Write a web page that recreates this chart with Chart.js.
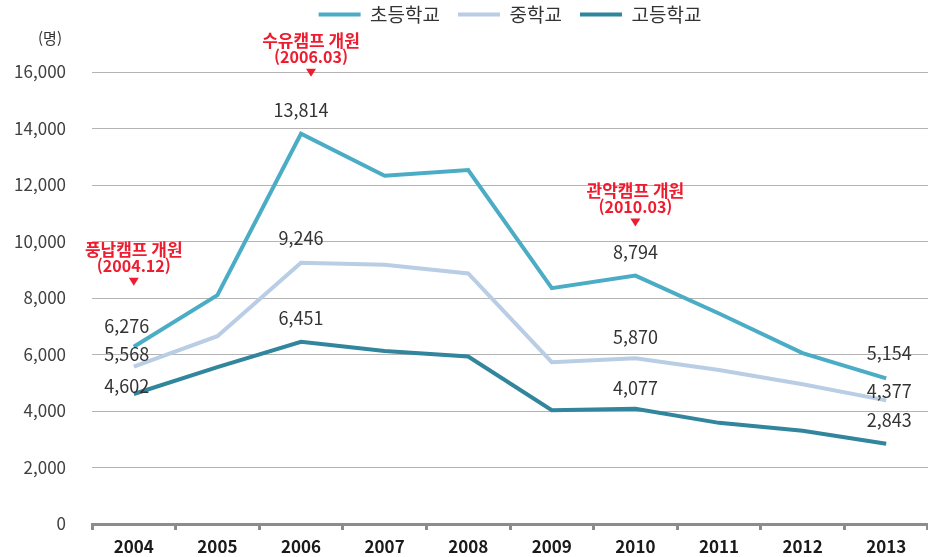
<!DOCTYPE html>
<html lang="ko">
<head>
<meta charset="utf-8">
<script src="https://cdn.jsdelivr.net/npm/chart.js@4.4.1/dist/chart.umd.min.js"></script>
<style>
  html, body { margin: 0; padding: 0; background: #fff; }
  #wrap { width: 928px; height: 557px; position: relative; }
</style>
</head>
<body>
<div id="wrap"><canvas id="chart"></canvas></div>
<script>
// Data
const years = ['2004', '2005', '2006', '2007', '2008', '2009', '2010', '2011', '2012', '2013'];
const elementary = [6276, 8100, 13814, 12330, 12530, 8350, 8794, 7450, 6050, 5154];
const middle = [5568, 6650, 9246, 9180, 8870, 5730, 5870, 5450, 4950, 4377];
const high = [4602, 5550, 6451, 6120, 5930, 4030, 4077, 3580, 3300, 2843];
const seriesNames = ['초등학교', '중학교', '고등학교'];
const yTicks = [0, 2000, 4000, 6000, 8000, 10000, 12000, 14000, 16000];
const unitLabel = '(명)';
const labeledPoints = [0, 2, 6, 9];
const events = [
    { name: '풍납캠프 개원', date: '(2004.12)', at: 0 },
    { name: '수유캠프 개원', date: '(2006.03)', at: 2 },
    { name: '관악캠프 개원', date: '(2010.03)', at: 6 }
];

const FONT = "'Noto Sans CJK KR', 'Noto Sans', sans-serif";
const colors = ['#4BACC6', '#B9CDE5', '#31859C'];

// label offsets (px) per point index; [dx, dy] per series
const labelOffsets = {
    0: [[-7, -21], [-7, -13], [-7, -8]],
    2: [[0, -24], [0, -25], [0, -24]],
    6: [[0, -23], [0, -21], [0, -21]],
    9: [[3, -25], [3, -9], [3, -24]]
};
// event marker offsets relative to the top series point
const eventOffsets = [[0, -65], [10, -61], [0, -53]];

const valueLabels = {
    id: 'valueLabels',
    afterDatasetsDraw(chart) {
        const ctx = chart.ctx;
        ctx.save();
        ctx.font = '18px ' + FONT;
        ctx.fillStyle = '#333';
        ctx.textAlign = 'center';
        ctx.textBaseline = 'middle';
        chart.data.datasets.forEach((ds, di) => {
            const meta = chart.getDatasetMeta(di);
            labeledPoints.forEach(i => {
                const pt = meta.data[i];
                const off = labelOffsets[i][di];
                ctx.fillText(ds.data[i].toLocaleString('en-US'), pt.x + off[0], pt.y + off[1]);
            });
        });
        ctx.restore();
    }
};

const eventMarkers = {
    id: 'eventMarkers',
    afterDatasetsDraw(chart) {
        const ctx = chart.ctx;
        const meta = chart.getDatasetMeta(0);
        ctx.save();
        ctx.fillStyle = '#EE1C2E';
        ctx.textAlign = 'center';
        ctx.textBaseline = 'middle';
        events.forEach((ev, k) => {
            const pt = meta.data[ev.at];
            const x = pt.x + eventOffsets[k][0];
            const y = pt.y + eventOffsets[k][1];
            ctx.font = 'bold 17px ' + FONT;
            ctx.fillText(ev.name, x, y - 32);
            ctx.font = 'bold 16px ' + FONT;
            ctx.fillText(ev.date, x, y - 16);
            ctx.beginPath();
            ctx.moveTo(x - 5, y - 4);
            ctx.lineTo(x + 5, y - 4);
            ctx.lineTo(x, y + 4);
            ctx.closePath();
            ctx.fill();
        });
        // unit label
        ctx.fillStyle = '#333';
        ctx.font = '15px ' + FONT;
        ctx.fillText(unitLabel, chart.chartArea.left - 42, chart.chartArea.top - 34);
        ctx.restore();
    }
};

// give the legend extra room beneath its items
const legendSpace = {
    id: 'legendSpace',
    beforeInit(chart) {
        const legend = chart.legend;
        if (!legend) return;
        const origFit = legend.fit;
        legend.fit = function () {
            origFit.call(this);
            this.height += 38;
        };
    }
};

const seriesData = [elementary, middle, high];

new Chart(document.getElementById('chart'), {
    type: 'line',
    data: {
        labels: years,
        datasets: seriesData.map((d, i) => ({
            label: seriesNames[i],
            data: d,
            borderColor: colors[i],
            backgroundColor: colors[i],
            borderWidth: 4,
            pointRadius: 0,
            tension: 0
        }))
    },
    options: {
        responsive: true,
        maintainAspectRatio: false,
        animation: false,
        layout: { padding: { top: -13, right: 0, bottom: 0, left: 0 } },
        plugins: {
            legend: {
                position: 'top',
                fullSize: false,
                labels: {
                    usePointStyle: true,
                    pointStyle: 'line',
                    pointStyleWidth: 42,
                    color: '#333',
                    font: { family: FONT, size: 19 },
                    padding: 18
                }
            },
            tooltip: { enabled: false }
        },
        scales: {
            x: {
                offset: true,
                afterFit: scale => { scale.height = 33; },
                grid: {
                    offset: true,
                    drawOnChartArea: false,
                    drawTicks: true,
                    tickLength: 6,
                    color: '#8c8c8c',
                    lineWidth: 3
                },
                border: { display: true, color: '#8c8c8c', width: 3 },
                ticks: {
                    color: '#1a1a1a',
                    padding: 6,
                    maxRotation: 0,
                    font: { family: FONT, size: 17, weight: 'bold' }
                }
            },
            y: {
                min: 0,
                max: 16000,
                afterBuildTicks: scale => {
                    scale.ticks = yTicks.map(v => ({ value: v }));
                },
                afterFit: scale => { scale.width = 92; },
                grid: {
                    color: '#b4b4b4',
                    lineWidth: 1,
                    drawTicks: true,
                    tickLength: 26,
                    tickColor: 'rgba(0,0,0,0)'
                },
                border: { display: false },
                ticks: {
                    color: '#404040',
                    padding: 0,
                    font: { family: FONT, size: 17 },
                    callback: v => v.toLocaleString('en-US')
                }
            }
        }
    },
    plugins: [legendSpace, valueLabels, eventMarkers]
});
</script>
</body>
</html>
